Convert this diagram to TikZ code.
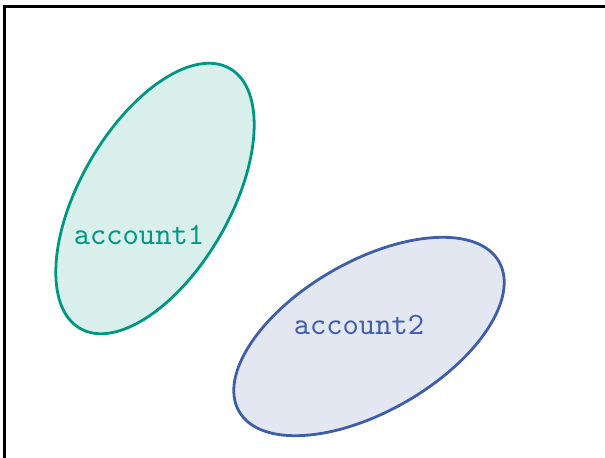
\documentclass[tikz,border=0pt]{standalone}

\definecolor{acctone}{RGB}{0,150,130}
\definecolor{accttwo}{RGB}{64,94,168}

\tikzstyle{frame} = [line width=1pt]
\tikzstyle{blob} = [line width=0.9pt]
\tikzstyle{lbl} = [font=\ttfamily]

\begin{document}
\begin{tikzpicture}[x=0.322pt,y=-0.322pt]

    \useasboundingbox (0,0) rectangle (605,458);
    \clip (0,0) rectangle (605,458);
    \draw [frame] (4.5,6.5) rectangle (700,600);

    \coordinate (c1) at (155,198.5);
    \coordinate (c2) at (369,336.5);
    \draw [blob, draw=acctone, fill=acctone!15] (c1) ellipse [x radius=150, y radius=75, rotate=60];
    \draw [blob, draw=accttwo, fill=accttwo!15] (c2) ellipse [x radius=150, y radius=75, rotate=30];

\node[lbl, text=acctone] (a1) at (139,235) {account1};
\node[lbl, text=accttwo] (a2) at (359,325) {account2};

\end{tikzpicture}
\end{document}
